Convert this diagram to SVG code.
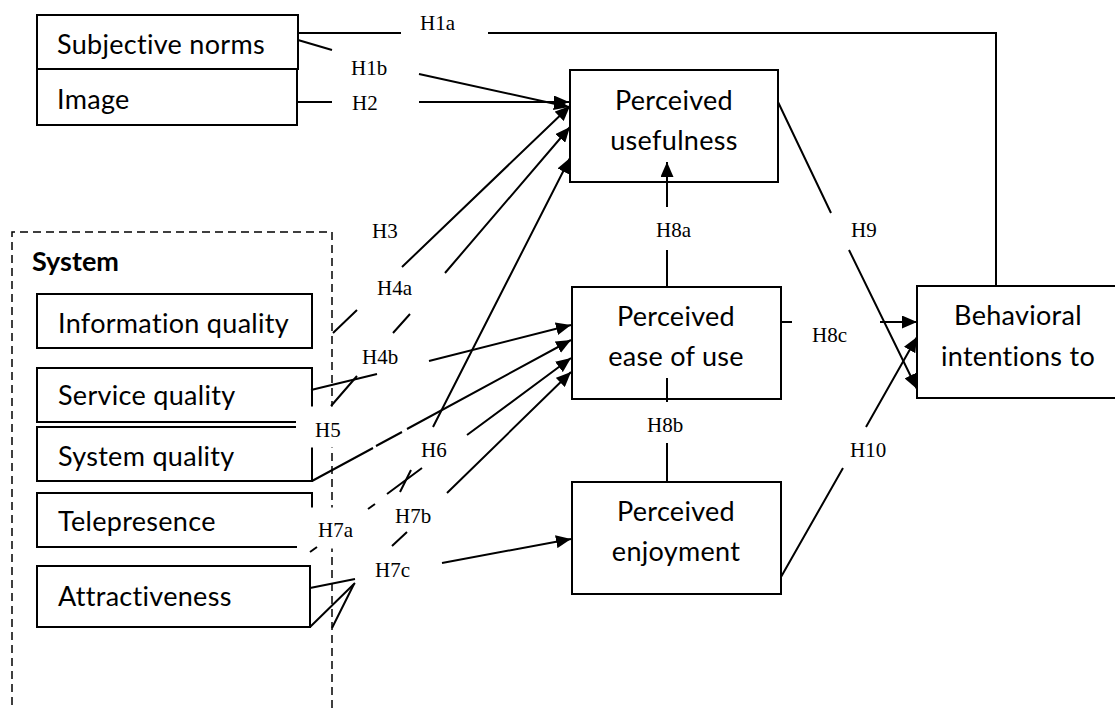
<svg xmlns="http://www.w3.org/2000/svg" width="1115" height="708" viewBox="0 0 1115 708">
  <style>
    .box { fill: #fff; stroke: #000; stroke-width: 2; }
    .lbl { font-family: Lato, "Liberation Sans", sans-serif; font-size: 27px; letter-spacing: 0.3px; fill: #000; }
    .ctr { text-anchor: middle; }
    .bold { font-weight: bold; letter-spacing: 0; }
    .h { font-family: "Liberation Serif", "Times New Roman", serif; font-size: 21px; fill: #000; }
    .conn { fill: none; stroke: #000; stroke-width: 2; }
    .arr { marker-end: url(#ah); }
    .grp { fill: none; stroke: #000; stroke-width: 1.5; stroke-dasharray: 8 5; }
    .mask { fill: #fff; stroke: none; }
  </style>
  <defs>
    <marker id="ah" markerUnits="userSpaceOnUse" markerWidth="15" markerHeight="13" viewBox="0 0 15 13" refX="15" refY="6.5" orient="auto">
      <path d="M0,0 L15,6.5 L0,13 z" fill="#000"/>
    </marker>
  </defs>
  <rect width="1115" height="708" fill="#fff"/>

  <!-- System group frame -->
  <g id="system">
    <path class="grp" d="M332,708 L332,232 L12,232 L12,708"/>
    <text class="lbl bold" x="32" y="271">System</text>
  </g>

  <g id="subjective-norms">
    <rect class="box" x="37" y="15" width="261" height="54"/>
    <text class="lbl" x="57" y="54">Subjective norms</text>
  </g>
  <g id="image">
    <rect class="box" x="37" y="69" width="260" height="56"/>
    <text class="lbl" x="57" y="109">Image</text>
  </g>
  <g id="information-quality">
    <rect class="box" x="37" y="294" width="275" height="54"/>
    <text class="lbl" x="58" y="333">Information quality</text>
  </g>
  <g id="service-quality">
    <rect class="box" x="37" y="368" width="275" height="54"/>
    <text class="lbl" x="58" y="405">Service quality</text>
  </g>
  <g id="system-quality">
    <rect class="box" x="37" y="427" width="275" height="54"/>
    <text class="lbl" x="58" y="466">System quality</text>
  </g>
  <g id="telepresence">
    <rect class="box" x="37" y="493" width="275" height="54"/>
    <text class="lbl" x="58" y="531">Telepresence</text>
  </g>
  <g id="attractiveness">
    <rect class="box" x="37" y="566" width="273" height="61"/>
    <text class="lbl" x="58" y="606">Attractiveness</text>
  </g>

  <g id="perceived-usefulness">
    <rect class="box" x="570" y="70" width="208" height="112"/>
    <text class="lbl ctr" x="674" y="110">Perceived</text>
    <text class="lbl ctr" x="674" y="150">usefulness</text>
  </g>
  <g id="perceived-ease-of-use">
    <rect class="box" x="572" y="287" width="209" height="112"/>
    <text class="lbl ctr" x="676" y="326">Perceived</text>
    <text class="lbl ctr" x="676" y="366">ease of use</text>
  </g>
  <g id="perceived-enjoyment">
    <rect class="box" x="572" y="482" width="209" height="112"/>
    <text class="lbl ctr" x="676" y="521">Perceived</text>
    <text class="lbl ctr" x="676" y="561">enjoyment</text>
  </g>
  <g id="behavioral-intentions">
    <rect class="box" x="917" y="286" width="205" height="112"/>
    <text class="lbl ctr" x="1018" y="325">Behavioral</text>
    <text class="lbl ctr" x="1018" y="366">intentions to</text>
  </g>

  <!-- white label backgrounds that cover the box corners -->
  <rect class="mask" x="296" y="406.5" width="62" height="41"/>
  <rect class="mask" x="297" y="507.5" width="80" height="41"/>

  <g id="connectors">
    <path id="c-h1a" class="conn" d="M298,33 L401,33 M488,33 L996,33 L996,286"/>
    <path id="c-h1b" class="conn arr" d="M298,40 L332,50 M419,74 L569,107"/>
    <path id="c-h2" class="conn arr" d="M298,102 L332,102 M419,102 L569,102"/>
    <path id="c-h3" class="conn arr" d="M333,333 L357,310 M402,267 L570,106"/>
    <path id="c-h4a" class="conn arr" d="M331,406 L357,376 M393,333 L410,314 M445,273 L570,127"/>
    <path id="c-h4b" class="conn arr" d="M311,390 L377,374 M429,361 L571,325"/>
    <path id="c-h5" class="conn arr" d="M312,481 L373,448 M376,446 L402,432 M407,429 L571,340"/>
    <path id="c-h6" class="conn arr" d="M332,628 L354,584 M400,492 L411,470 M433,427 L570,158"/>
    <path id="c-h7a" class="conn arr" d="M310,552 L317,547 M368,509 L375,504 M387,494 L422,468 M467,435 L571,358"/>
    <path id="c-h7b" class="conn arr" d="M310,627 L355,583 M392,546 L407,532 M447,493 L571,372"/>
    <path id="c-h7c" class="conn arr" d="M310,588 L355,579 M442,563 L571,539"/>
    <path id="c-h8a" class="conn arr" d="M667,287 L667,250 M667,207 L667,162"/>
    <path id="c-h8b" class="conn" d="M667,378 L667,402 M667,443 L667,482"/>
    <path id="c-h8c" class="conn arr" d="M781,322 L792,322 M880,322 L917,322"/>
    <path id="c-h9" class="conn arr" d="M778,102 L831,213 M849,250 L917,389"/>
    <path id="c-h10" class="conn arr" d="M781,577 L843,468 M866,427 L917,337"/>
  </g>

  <g id="hypothesis-labels">
    <text class="h" x="420" y="30">H1a</text>
    <text class="h" x="351" y="75">H1b</text>
    <text class="h" x="352" y="110">H2</text>
    <text class="h" x="372" y="238">H3</text>
    <text class="h" x="377" y="295">H4a</text>
    <text class="h" x="362" y="364">H4b</text>
    <text class="h" x="315" y="437">H5</text>
    <text class="h" x="421" y="457">H6</text>
    <text class="h" x="318" y="537">H7a</text>
    <text class="h" x="395" y="523">H7b</text>
    <text class="h" x="375" y="577">H7c</text>
    <text class="h" x="656" y="237">H8a</text>
    <text class="h" x="647" y="432">H8b</text>
    <text class="h" x="812" y="342">H8c</text>
    <text class="h" x="851" y="237">H9</text>
    <text class="h" x="850" y="457">H10</text>
  </g>
</svg>
